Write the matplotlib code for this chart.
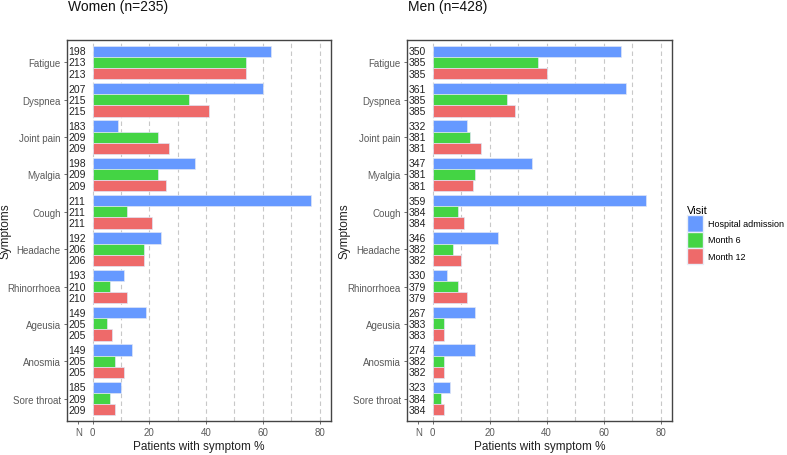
import numpy as np
import matplotlib.pyplot as plt
from matplotlib.patches import Patch

plt.rcParams['font.family'] = ['Liberation Sans', 'DejaVu Sans']

symptoms = ['Fatigue', 'Dyspnea', 'Joint pain', 'Myalgia', 'Cough', 'Headache',
            'Rhinorrhoea', 'Ageusia', 'Anosmia', 'Sore throat']
visits = ['Hospital admission', 'Month 6', 'Month 12']
colors = ['#6699FF', '#44D444', '#EE6A6A']

# Women (n=235): % with symptom
women_admission = [63, 60, 9, 36, 77, 24, 11, 19, 14, 10]
women_m6 = [54, 34, 23, 23, 12, 18, 6, 5, 8, 6]
women_m12 = [54, 41, 27, 26, 21, 18, 12, 7, 11, 8]
women_n_admission = [198, 207, 183, 198, 211, 192, 193, 149, 149, 185]
women_n_m6 = [213, 215, 209, 209, 211, 206, 210, 205, 205, 209]
women_n_m12 = [213, 215, 209, 209, 211, 206, 210, 205, 205, 209]

# Men (n=428)
men_admission = [66, 68, 12, 35, 75, 23, 5, 15, 15, 6]
men_m6 = [37, 26, 13, 15, 9, 7, 9, 4, 4, 3]
men_m12 = [40, 29, 17, 14, 11, 10, 12, 4, 4, 4]
men_n_admission = [350, 361, 332, 347, 359, 346, 330, 267, 274, 323]
men_n_m6 = [385, 385, 381, 381, 384, 382, 379, 383, 382, 384]
men_n_m12 = [385, 385, 381, 381, 384, 382, 379, 383, 382, 384]

fig = plt.figure(figsize=(7.87, 4.56), dpi=100)


def panel(rect, title, series, ns, ylab_x):
    ax = fig.add_axes(rect)
    y = np.arange(len(symptoms))
    for gx in range(0, 90, 10):
        ax.axvline(gx, color='#c8c8c8', lw=0.8, ls=(0, (4, 3)), zorder=0)
    for k in range(3):
        ax.barh(y + (k - 1) * 0.3, series[k], height=0.3, color=colors[k],
                edgecolor='#dfe6f5', linewidth=0.5, zorder=2)
        for i, n in enumerate(ns[k]):
            ax.text(-2.4, y[i] + (k - 1) * 0.3, str(n), ha='right', va='center',
                    fontsize=7.5, color='#222222')
    ax.set_ylim(9.6, -0.6)
    ax.set_xlim(-9, 84)
    ax.set_yticks(y)
    ax.set_yticklabels(symptoms)
    ax.set_xticks([-5, 0, 20, 40, 60, 80])
    ax.set_xticklabels(['N', '0', '20', '40', '60', '80'])
    ax.tick_params(axis='both', labelsize=7, colors='#555555', length=2.5, width=0.6, pad=2)
    ax.tick_params(axis='both', labelcolor='#5a5a5a')
    for s in ax.spines.values():
        s.set_color('#444444')
        s.set_linewidth(1.0)
    ax.set_xlabel('Patients with symptom %', fontsize=8.5, color='#222222', labelpad=2)
    ax.set_ylabel('Symptoms', fontsize=8.5, color='#222222')
    ax.yaxis.set_label_coords(ylab_x, 0.5)
    fig.text(rect[0] + 1 / 787, 1 - 7 / 456, title, fontsize=10, va='center', ha='left',
             color='#111111')
    return ax


panel([67 / 787, 34 / 456, 264 / 787, 381 / 456], 'Women (n=235)',
      [women_admission, women_m6, women_m12],
      [women_n_admission, women_n_m6, women_n_m12], -0.21)
panel([407 / 787, 34 / 456, 265 / 787, 381 / 456], 'Men (n=428)',
      [men_admission, men_m6, men_m12],
      [men_n_admission, men_n_m6, men_n_m12], -0.215)

handles = [Patch(facecolor=c, edgecolor='#e8eef8', label=v) for c, v in zip(colors, visits)]
fig.legend(handles=handles, title='Visit', loc='upper left',
           bbox_to_anchor=(680 / 787, 1 - 199 / 456), frameon=False,
           fontsize=6.5, title_fontsize=8, handlelength=1.75, handleheight=2.4,
           handletextpad=0.6, labelspacing=0.0, alignment='left', borderpad=0.3)

fig.savefig('out.png', dpi=100)
